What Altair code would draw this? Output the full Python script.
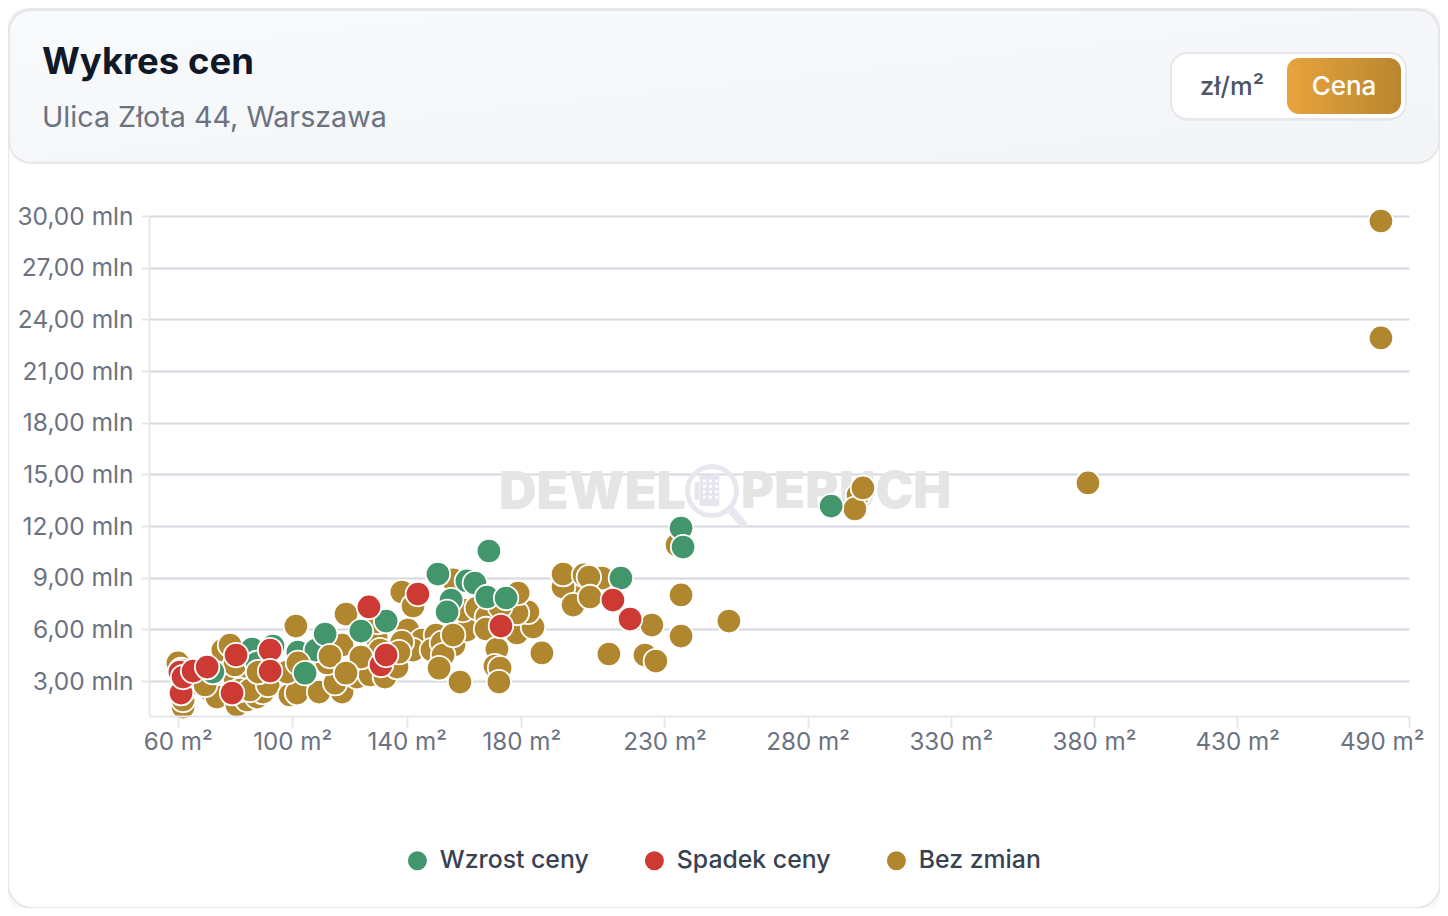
import altair as alt
import pandas as pd

FONT = "Inter"

brown_a_area = [60.1,61.2,61.9,61.9,62.2,71.3,73.7,69.6,75.8,78.3,80.0,80.0,80.7,84.2,87.7,81.8,89.8,85.3,91.6,99.2,101.7,101.3,109.4,117.4,117.4,115.0,112.2,107.6,117.4,118.8,122.6,127.2,118.8,129.3,130.7,130.0,132.4,132.4,136.6,138.3,142.2,140.4,145.3,142.2,138.3,137.3,150.2,148.8,156.2,156.5,161.0,158.6,156.2,159.6,164.5,178.5,184.1,182.3,178.5,178.9,168.0,172.6,187.2,199.5,194.6,194.6,201.9,208.2,198.1,203.6,204.0,210.6,223.2,227.0,225.6,235.8,235.8,252.5,234.4,297.6,296.5,299.3,377.9,480.2,480.2]
brown_a_price = [4.05,3.64,1.49,1.90,2.48,2.48,2.07,2.77,4.80,5.09,3.17,3.93,1.61,1.90,2.07,2.48,2.36,2.48,2.77,2.19,2.30,6.19,2.36,2.83,2.36,2.88,4.05,4.80,5.09,3.46,3.23,3.35,6.89,5.56,4.80,6.43,3.52,3.23,3.81,8.17,7.36,5.96,5.38,4.80,5.26,4.68,5.67,4.80,5.67,5.09,5.96,2.94,8.87,7.12,7.24,5.79,6.14,7.01,6.95,8.11,6.72,7.30,4.63,8.69,8.46,9.21,9.16,8.98,7.41,9.04,7.88,4.57,4.51,4.16,6.25,8.00,5.61,6.48,10.90,13.80,12.99,14.21,14.50,22.92,29.71]

green_area = [72.3,86.0,93.3,87.7,102.0,108.3,111.5,124.0,132.8,150.9,155.5,154.1,161.0,163.8,168.0,174.7,168.7,214.8,235.8,236.5,288.2]
green_price = [3.52,4.86,5.03,4.05,4.68,4.80,5.73,5.90,6.48,9.21,7.70,7.01,8.81,8.69,7.88,7.82,10.55,8.98,11.88,10.78,13.16]

brown_b_area = [88.1,98.2,102.0,113.2,124.0,118.8,167.7,152.3,152.7,151.3,156.2,171.5,170.8,172.6,172.2]
brown_b_price = [3.52,3.52,4.05,4.45,4.39,3.46,6.02,5.21,4.51,3.75,5.67,4.86,3.87,3.75,2.94]

green_b_area = [104.5]
green_b_price = [3.46]

red_area = [60.8,61.2,61.9,65.4,70.3,80.4,92.3,92.3,79.0,126.8,131.0,132.8,143.9,172.9,212.0,218.0]
red_price = [3.52,2.30,3.23,3.58,3.81,4.51,4.80,3.58,2.30,7.30,3.93,4.51,8.05,6.19,7.70,6.60]

x_ticks = [60,100,140,180,230,280,330,380,430,490]
y_ticks = [3,6,9,12,15,18,21,24,27,30]
status_names = ["Wzrost ceny","Spadek ceny","Bez zmian"]
status_colors = ["#43956C","#CC3A33","#B0872F"]

rows = []
for xs, ys, name in [(brown_a_area, brown_a_price, "Bez zmian"),
                     (green_area, green_price, "Wzrost ceny"),
                     (brown_b_area, brown_b_price, "Bez zmian"),
                     (green_b_area, green_b_price, "Wzrost ceny"),
                     (red_area, red_price, "Spadek ceny")]:
    rows += [{"area": a, "price": p, "status": name} for a, p in zip(xs, ys)]
df = pd.DataFrame(rows)

W, H = 1260, 500
OX, OY = 149, 216   # page position of the plot area

def px(v):
    return alt.value(v - OX)

def py(v):
    return alt.value(v - OY)

def box(x0, y0, x1, y1, **kw):
    return alt.Chart().mark_rect(**kw).encode(x=px(x0), x2=px(x1), y=py(y0), y2=py(y1))

def label(x, y, text, **kw):
    return alt.Chart().mark_text(text=text, font=FONT, baseline="middle", **kw).encode(x=px(x), y=py(y))

header_grad = alt.Gradient(gradient="linear", x1=0, y1=0, x2=1, y2=1,
                           stops=[alt.GradientStop(color="#F9FAFB", offset=0),
                                  alt.GradientStop(color="#F3F4F6", offset=1)])
btn_grad = alt.Gradient(gradient="linear", x1=0, y1=0, x2=1, y2=0,
                        stops=[alt.GradientStop(color="#E8A33D", offset=0),
                               alt.GradientStop(color="#B8862F", offset=1)])

card_shadow = box(6, 8, 1442, 911, fillOpacity=0, stroke="#000000", strokeOpacity=0.03, strokeWidth=3, cornerRadius=25)
card = box(8, 9, 1440, 908, fillOpacity=0, stroke="#E5E7EB", strokeWidth=2, cornerRadius=24)
header = box(9, 10, 1439, 163, fill=header_grad, stroke="#E5E7EB", strokeWidth=2, cornerRadius=22)
btn_shadow = box(1171, 54, 1406, 121, fill="#000000", fillOpacity=0.05, cornerRadius=17)
btn = box(1171, 53, 1406, 119, fill="#FFFFFF", stroke="#E5E7EB", strokeWidth=2, cornerRadius=16)
btn_on = box(1287, 58, 1401, 114, fill=btn_grad, cornerRadius=12)

title = label(42, 63, "Wykres cen", fontSize=36.5, fontWeight=700, color="#111827", align="left")
subtitle = label(42, 118, "Ulica Złota 44, Warszawa", fontSize=28.7, color="#6B7280", align="left")
t1 = label(1232, 87, "zł/m²", fontSize=25.5, fontWeight=500, color="#4B5563", align="center")
t2 = label(1344, 87, "Cena", fontSize=26, fontWeight=500, color="#FFFFFF", align="center")

wm1 = label(686, 493, "DEWEL", fontSize=52, fontWeight=900, color="#E5E5E5", align="right")
wm2 = label(741, 493, "PERUCH", fontSize=50.6, fontWeight=900, color="#E5E5E5", align="left")
ring = alt.Chart().mark_point(shape="circle", size=2401, filled=False, stroke="#E8E6EE", strokeWidth=5, opacity=1).encode(x=px(712), y=py(491))
handle = alt.Chart().mark_rule(stroke="#E8E6EE", strokeWidth=8, strokeCap="round").encode(x=px(731), x2=px(743), y=py(510), y2=py(524))
windows = "".join(f"M{x},{y}v0.09h0.1v-0.09z" for x in (-0.2, 0.0, 0.2) for y in (-0.38, -0.2, -0.02, 0.16))
tower = "M-0.32,-0.5L0.34,-0.58V0.5H-0.32Z" + windows + "M-0.48,-0.3h0.14v0.6h-0.14z"
building = alt.Chart().mark_point(shape=tower, size=3600, filled=True, fill="#E6E4EC", strokeWidth=0, opacity=1).encode(x=px(709), y=py(491))

points = alt.Chart(df).mark_circle(size=600, stroke="#FFFFFF", strokeWidth=1.8, opacity=1).encode(
    x=alt.X("area:Q", scale=alt.Scale(domain=[50, 490], nice=False, zero=False),
            axis=alt.Axis(title=None, values=x_ticks, labelExpr="datum.value + ' m²'", grid=False,
                          labelFont=FONT, labelFontSize=24.2, labelColor="#6B7280", labelPadding=3,
                          labelFlush=True, labelFlushOffset=15,
                          tickColor="#E5E7EB", tickWidth=2, tickSize=11,
                          domainColor="#E5E7EB", domainWidth=2, zindex=1, labelOverlap=False)),
    y=alt.Y("price:Q", scale=alt.Scale(domain=[0.97, 30], nice=False, zero=False),
            axis=alt.Axis(title=None, values=y_ticks,
                          labelExpr="replace(format(datum.value, '.2f'), '.', ',') + ' mln'",
                          grid=True, gridColor="#D5D8DE", gridWidth=2,
                          labelFont=FONT, labelFontSize=24.5, labelColor="#6B7280", labelPadding=8,
                          labelOffset=1,
                          tickColor="#E5E7EB", tickWidth=2, tickSize=8,
                          domainColor="#E5E7EB", domainWidth=2, labelOverlap=False)),
    color=alt.Color("status:N", scale=alt.Scale(domain=status_names, range=status_colors),
                    legend=alt.Legend(title=None, orient="none", direction="horizontal",
                                      legendX=256, legendY=632,
                                      symbolType="circle", symbolSize=361, symbolStrokeWidth=0,
                                      labelFont=FONT, labelFontSize=24.8, labelFontWeight=500,
                                      labelColor="#374151", labelOffset=10, columnPadding=53,
                                      labelLimit=300)),
)

chart = alt.layer(card_shadow, card, header, btn_shadow, btn, btn_on, title, subtitle, t1, t2,
                  wm1, wm2, ring, handle, building, points).properties(
    width=W, height=H,
    padding={"left": OX - 8, "top": OY - 8, "right": 1432 - (OX - 8) - W, "bottom": 900 - (OY - 8) - H},
    autosize=alt.AutoSizeParams(type="none"),
    background="#FFFFFF",
).configure_view(stroke=None)

chart.save("out.html", embed_options={"renderer": "svg", "actions": False})
